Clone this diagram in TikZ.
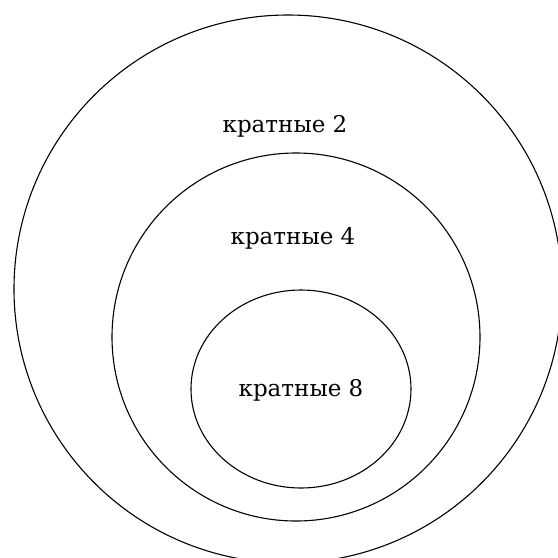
\documentclass[tikz,border=0pt]{standalone}
\usepackage{fontspec}
\setmainfont{DejaVu Serif}
\begin{document}
\begin{tikzpicture}[x=1pt,y=-1pt,
  ring/.style={draw=black,line width=1.1pt},
  lbl/.style={font=\fontsize{23}{26}\selectfont,inner sep=0pt}]
\useasboundingbox (0,0) rectangle (558,558);
\clip (0,0) rectangle (558,558);
\draw[ring] (288,289) ellipse [x radius=274, y radius=274];
\draw[ring] (296,337) ellipse [x radius=184, y radius=184];
\draw[ring] (301,389) ellipse [x radius=110, y radius=99];
\node[lbl] (t2) at (285,126) {кратные 2};
\node[lbl] (t4) at (293,238) {кратные 4};
\node[lbl] (t8) at (301,390) {кратные 8};
\end{tikzpicture}
\end{document}
